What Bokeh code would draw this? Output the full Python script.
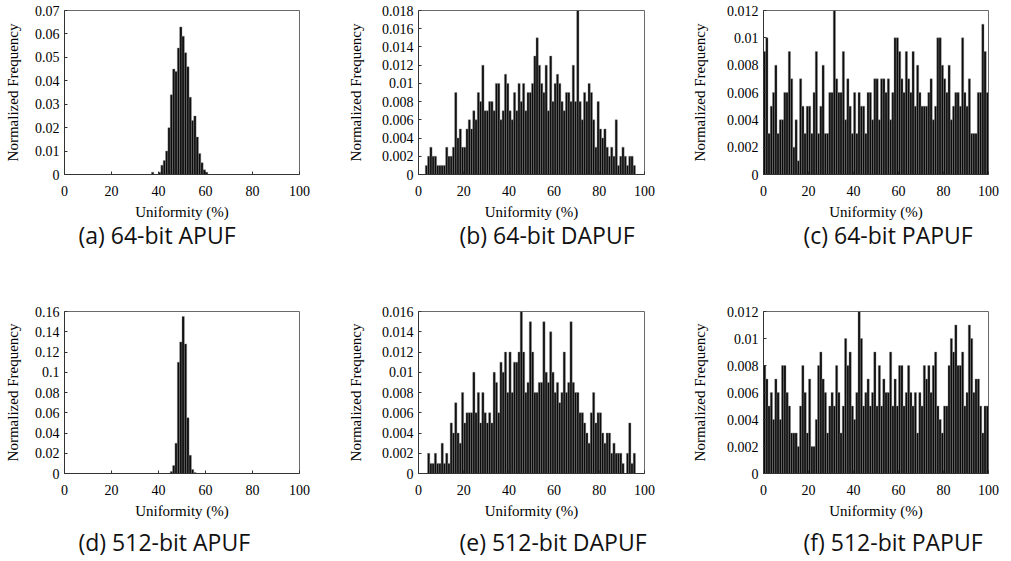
from bokeh.plotting import figure
from bokeh.layouts import column, row
from bokeh.models import Range1d, FixedTicker, PrintfTickFormatter, Title
from bokeh.embed import file_html
from bokeh.resources import INLINE

# Histogram bins: start of each 1%-wide uniformity bin
bins = list(range(100))

# Normalized frequency, in units of 0.001 (per mille), one value per bin
apuf64 = [0, 0, 0, 0, 0, 0, 0, 0, 0, 0,
          0, 0, 0, 0, 0, 0, 0, 0, 0, 0,
          0, 0, 0, 0, 0, 0, 0, 0, 0, 0,
          0, 0, 0, 0, 0, 0, 0, 1, 0, 0,
          1, 4, 6, 10, 20, 34, 45, 44, 54, 63,
          59, 52, 46, 33, 23, 25, 16, 9, 5, 2,
          1, 0, 0, 0, 0, 0, 0, 0, 0, 0,
          0, 0, 0, 0, 0, 0, 0, 0, 0, 0,
          0, 0, 0, 0, 0, 0, 0, 0, 0, 0,
          0, 0, 0, 0, 0, 0, 0, 0, 0, 0]

dapuf64 = [0, 0, 0, 1, 2, 3, 2, 2, 1, 1,
           1, 1, 3, 2, 2, 3, 9, 4, 5, 3,
           3, 5, 6, 5, 7, 6, 9, 8, 12, 7,
           7, 8, 8, 7, 10, 10, 6, 7, 11, 10,
           7, 6, 9, 7, 10, 8, 10, 7, 9, 9,
           10, 13, 15, 12, 10, 9, 12, 7, 13, 8,
           10, 11, 10, 8, 7, 9, 9, 8, 12, 8,
           18, 8, 6, 9, 8, 10, 9, 6, 3, 8,
           5, 4, 5, 3, 2, 3, 2, 6, 1, 2,
           3, 2, 1, 2, 2, 1, 0, 0, 0, 0]

papuf64 = [9, 10, 3, 5, 6, 8, 3, 4, 4, 6,
           6, 9, 7, 2, 4, 1, 7, 5, 3, 5,
           5, 3, 6, 9, 3, 5, 8, 3, 3, 6,
           6, 12, 7, 6, 6, 9, 4, 7, 5, 3,
           6, 3, 6, 5, 5, 3, 6, 6, 4, 7,
           7, 4, 7, 7, 6, 7, 4, 6, 10, 10,
           9, 7, 6, 9, 7, 6, 9, 5, 8, 6,
           5, 5, 5, 6, 7, 4, 5, 10, 10, 8,
           7, 6, 8, 4, 5, 6, 6, 5, 10, 6,
           5, 7, 3, 3, 3, 6, 6, 11, 9, 6]

apuf512 = [0, 0, 0, 0, 0, 0, 0, 0, 0, 0,
           0, 0, 0, 0, 0, 0, 0, 0, 0, 0,
           0, 0, 0, 0, 0, 0, 0, 0, 0, 0,
           0, 0, 0, 0, 0, 0, 0, 0, 0, 0,
           0, 0, 0, 0, 0, 2, 8, 30, 110, 130,
           155, 128, 55, 18, 4, 1, 0, 0, 0, 0,
           0, 0, 0, 0, 0, 0, 0, 0, 0, 0,
           0, 0, 0, 0, 0, 0, 0, 0, 0, 0,
           0, 0, 0, 0, 0, 0, 0, 0, 0, 0,
           0, 0, 0, 0, 0, 0, 0, 0, 0, 0]

dapuf512 = [0, 0, 0, 0, 2, 1, 1, 2, 1, 1,
            3, 1, 2, 1, 5, 4, 7, 4, 3, 8,
            5, 6, 6, 6, 10, 6, 8, 5, 8, 6,
            5, 6, 5, 10, 9, 6, 11, 10, 12, 8,
            12, 8, 11, 11, 12, 16, 12, 8, 9, 15,
            12, 8, 8, 9, 9, 15, 10, 9, 14, 10,
            8, 9, 7, 8, 12, 8, 9, 15, 9, 8,
            8, 6, 6, 5, 4, 3, 6, 8, 5, 6,
            6, 4, 3, 4, 4, 2, 3, 2, 2, 2,
            1, 0, 2, 5, 1, 2, 0, 0, 0, 0]

papuf512 = [8, 7, 5, 6, 4, 7, 6, 4, 8, 8,
            6, 5, 3, 3, 3, 2, 5, 8, 6, 3,
            7, 2, 2, 4, 8, 9, 7, 6, 3, 5,
            6, 5, 8, 6, 3, 5, 10, 8, 9, 5,
            4, 6, 12, 10, 5, 6, 7, 5, 6, 9,
            5, 8, 5, 7, 6, 6, 9, 5, 7, 5,
            8, 8, 5, 6, 8, 6, 5, 6, 3, 6,
            5, 8, 7, 8, 6, 8, 9, 5, 4, 3,
            5, 5, 8, 10, 9, 11, 8, 8, 9, 5,
            6, 11, 10, 6, 7, 7, 5, 3, 5, 5]

x_ticks = [0, 20, 40, 60, 80, 100]
y_ticks_apuf64 = [0, 0.01, 0.02, 0.03, 0.04, 0.05, 0.06, 0.07]
y_ticks_dapuf64 = [0, 0.002, 0.004, 0.006, 0.008, 0.01, 0.012, 0.014, 0.016, 0.018]
y_ticks_papuf = [0, 0.002, 0.004, 0.006, 0.008, 0.01, 0.012]
y_ticks_apuf512 = [0, 0.02, 0.04, 0.06, 0.08, 0.1, 0.12, 0.14, 0.16]
y_ticks_dapuf512 = [0, 0.002, 0.004, 0.006, 0.008, 0.01, 0.012, 0.014, 0.016]

captions = ["(a) 64-bit APUF", "(b) 64-bit DAPUF", "(c) 64-bit PAPUF",
            "(d) 512-bit APUF", "(e) 512-bit DAPUF", "(f) 512-bit PAPUF"]

SERIF = "Liberation Serif"
SANS = "Open Sans"


def make_fig(vals, yticks, caption, width, bl, br, height, bt, bb,
             cap_off, cap_standoff, ylab_standoff):
    p = figure(width=width, height=height,
               x_range=Range1d(0, 100), y_range=Range1d(0, yticks[-1]),
               output_backend="svg", toolbar_location=None,
               min_border_left=bl, min_border_right=br,
               min_border_top=bt, min_border_bottom=bb,
               background_fill_color="white", border_fill_color="white")
    p.vbar(x=[b + 0.5 for b in bins], top=[v / 1000 for v in vals], width=1.0,
           fill_color="#0b0b0b", line_color="#8a8a8a", line_width=0.4)
    p.xgrid.visible = False
    p.ygrid.visible = False
    p.outline_line_color = "#6a6a6a"
    p.outline_line_width = 1

    p.xaxis.ticker = FixedTicker(ticks=x_ticks)
    p.yaxis.ticker = FixedTicker(ticks=yticks)
    p.yaxis.formatter = PrintfTickFormatter(format="%g")
    p.xaxis.axis_label = "Uniformity (%)"
    p.yaxis.axis_label = "Normalized Frequency"
    for ax in (p.xaxis[0], p.yaxis[0]):
        ax.major_label_text_font = SERIF
        ax.major_label_text_font_size = "14px"
        ax.major_label_text_color = "black"
        ax.axis_label_text_font = SERIF
        ax.axis_label_text_font_size = "15px"
        ax.axis_label_text_font_style = "normal"
        ax.axis_label_text_color = "black"
        ax.major_tick_in = 3
        ax.major_tick_out = 0
        ax.minor_tick_in = 0
        ax.minor_tick_out = 0
        ax.axis_line_color = "#333333"
        ax.major_tick_line_color = "#333333"
    p.xaxis.major_label_standoff = 11
    p.xaxis.axis_label_standoff = 5
    p.yaxis.major_label_standoff = 5
    p.yaxis.axis_label_standoff = ylab_standoff

    t = Title(text=caption, align="left", offset=cap_off,
              text_font=SANS, text_font_size="23px", text_font_style="normal",
              text_color="#111111", standoff=cap_standoff)
    p.add_layout(t, "below")
    return p


H1, H2 = 301, 259
fa = make_fig(apuf64, y_ticks_apuf64, captions[0], 342, 64, 43, H1, 10, 127, 14, -12, 11)
fb = make_fig(dapuf64, y_ticks_dapuf64, captions[1], 344, 76, 42, H1, 10, 127, 41, -12, 15)
fc = make_fig(papuf64, y_ticks_papuf, captions[2], 319, 77, 17, H1, 10, 127, 40, -12, 16)
fd = make_fig(apuf512, y_ticks_apuf512, captions[3], 342, 64, 43, H2, 10, 85, 14, 5, 11)
fe = make_fig(dapuf512, y_ticks_dapuf512, captions[4], 344, 76, 42, H2, 10, 85, 41, 5, 15)
ff = make_fig(papuf512, y_ticks_papuf, captions[5], 319, 77, 17, H2, 10, 85, 40, 5, 16)

layout = column(row(fa, fb, fc, spacing=0), row(fd, fe, ff, spacing=0), spacing=0)

open("out.html", "w").write(file_html(layout, INLINE))
